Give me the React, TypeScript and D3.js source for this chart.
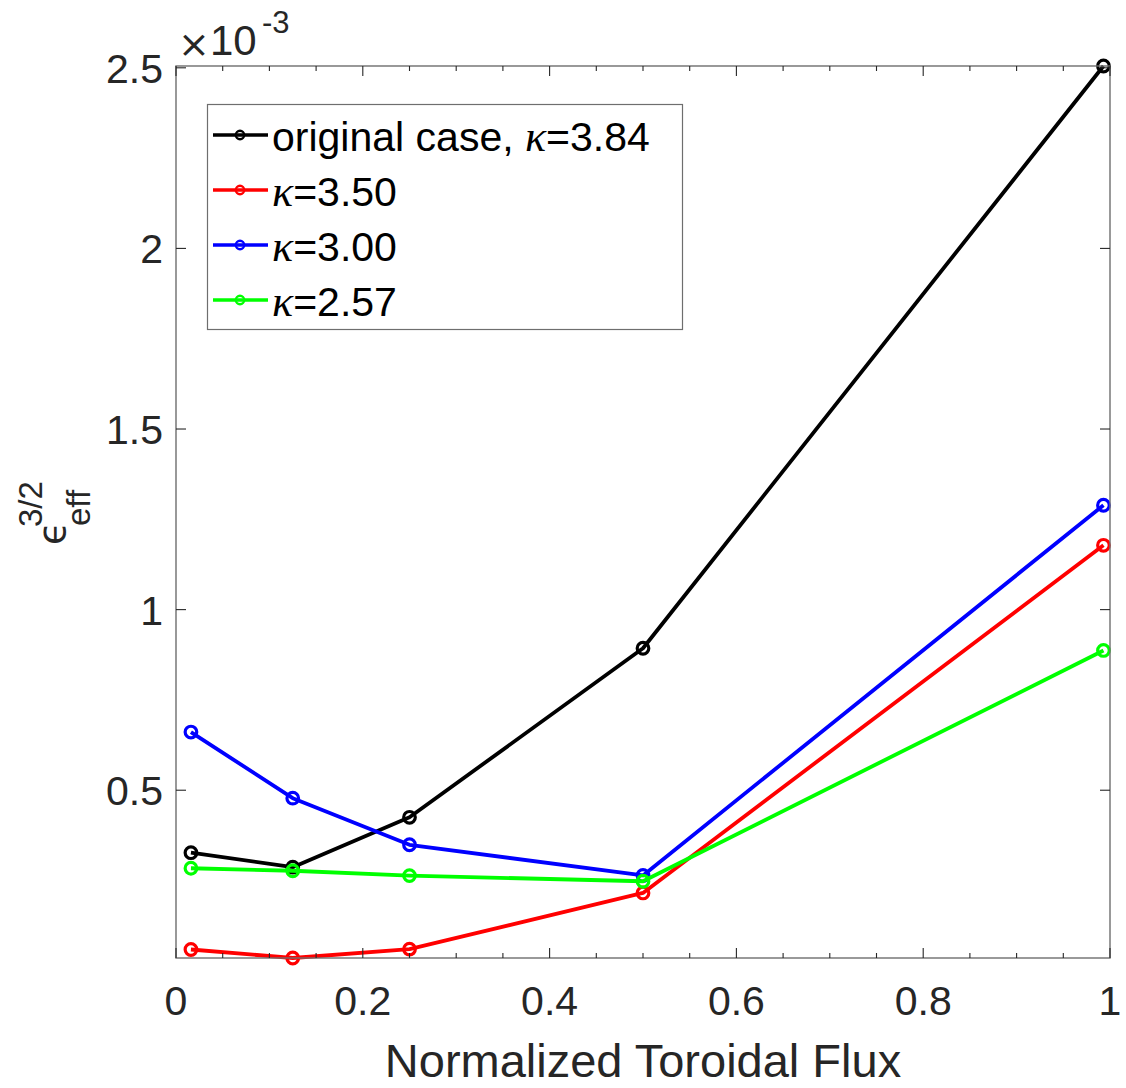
import React from "react";
import * as d3 from "d3";

const xValues = [0.016, 0.125, 0.25, 0.5, 0.993];
const blackVals = [0.327, 0.287, 0.425, 0.893, 2.505];
const redVals = [0.059, 0.0355, 0.06, 0.2156, 1.178];
const blueVals = [0.661, 0.478, 0.349, 0.264, 1.289];
const greenVals = [0.284, 0.277, 0.2636, 0.248, 0.887];

const seriesNames = ["original case, ", "", "", ""];
const seriesKappa = ["3.84", "3.50", "3.00", "2.57"];
const seriesColors = ["#000000", "#ff0000", "#0000ff", "#00ff00"];
const seriesValues = [blackVals, redVals, blueVals, greenVals];

const xTicks = [0, 0.2, 0.4, 0.6, 0.8, 1];
const xTickLabels = ["0", "0.2", "0.4", "0.6", "0.8", "1"];
const yTicks = [0.5, 1, 1.5, 2, 2.5];
const yTickLabels = ["0.5", "1", "1.5", "2", "2.5"];

const W = 1126;
const H = 1088;
const L = 176, R = 1110, T = 66, B = 958;
const SANS = "'Liberation Sans', Arial, Helvetica, sans-serif";
const SERIF = "'Liberation Serif', 'DejaVu Serif', serif";
const AX = "#262626";

export default function App() {
  const x = d3.scaleLinear().domain([0, 1]).range([L, R]);
  const allVals = seriesValues.flat();
  const y = d3
    .scaleLinear()
    .domain([d3.min(allVals) as number, d3.max(allVals) as number])
    .range([B, T]);
  const line = d3
    .line<number>()
    .x((_, i) => x(xValues[i]))
    .y((d) => y(d));

  const minorX = d3.range(0, 21).map((i) => i * 0.05);

  return (
    <svg
      width={W}
      height={H}
      style={{ position: "absolute", left: 0, top: 0, background: "#fff" }}
    >
      <rect x={0} y={0} width={W} height={H} fill="#fff" />
      {/* series */}
      {seriesValues.map((vals, si) => (
        <g key={si}>
          <path
            d={line(vals) || ""}
            fill="none"
            stroke={seriesColors[si]}
            strokeWidth={3.8}
            strokeLinejoin="round"
          />
          {vals.map((v, i) => (
            <circle
              key={i}
              cx={x(xValues[i])}
              cy={y(v)}
              r={5.8}
              fill="none"
              stroke={seriesColors[si]}
              strokeWidth={3.2}
            />
          ))}
        </g>
      ))}
      {/* axes box */}
      <rect x={L} y={T} width={R - L} height={B - T} fill="none" stroke="#6e6e6e" strokeWidth={1.4} />
      {/* x ticks */}
      {minorX.map((t, i) => {
        const major = i % 4 === 0;
        const len = major ? 10 : 5;
        return (
          <g key={"xt" + i}>
            <line x1={x(t)} x2={x(t)} y1={B} y2={B - len} stroke={AX} strokeWidth={1.1} />
            <line x1={x(t)} x2={x(t)} y1={T} y2={T + len} stroke={AX} strokeWidth={1.1} />
          </g>
        );
      })}
      {xTicks.map((t, i) => (
        <text
          key={"xl" + i}
          x={x(t)}
          y={1015}
          textAnchor="middle"
          fontFamily={SANS}
          fontSize={41}
          fill={AX}
        >
          {xTickLabels[i]}
        </text>
      ))}
      {/* y ticks */}
      {yTicks.map((t, i) => (
        <g key={"yt" + i}>
          <line x1={L} x2={L + 10} y1={y(t)} y2={y(t)} stroke={AX} strokeWidth={1.1} />
          <line x1={R} x2={R - 10} y1={y(t)} y2={y(t)} stroke={AX} strokeWidth={1.1} />
          <text
            x={163}
            y={y(t) + 15}
            textAnchor="end"
            fontFamily={SANS}
            fontSize={41}
            fill={AX}
          >
            {yTickLabels[i]}
          </text>
        </g>
      ))}
      {/* exponent */}
      <text x={178} y={57} fontFamily="'DejaVu Sans', sans-serif" fontSize={38} fill={AX}>
        ×
      </text>
      <text x={210} y={55} fontFamily={SANS} fontSize={42} fill={AX}>
        10
      </text>
      <text x={262} y={33} fontFamily={SANS} fontSize={31} fill={AX}>
        -3
      </text>
      {/* x label */}
      <text
        x={(L + R) / 2}
        y={1077}
        textAnchor="middle"
        fontFamily={SANS}
        fontSize={47}
        fill={AX}
      >
        Normalized Toroidal Flux
      </text>
      {/* y label */}
      <g transform="translate(65,545) rotate(-90)" fill={AX} fontFamily={SANS}>
        <text x={0} y={0} fontSize={38} fontFamily="'DejaVu Sans', sans-serif">
          ϵ
        </text>
        <text x={19} y={25} fontSize={33}>
          eff
        </text>
        <text x={18} y={-23} fontSize={33}>
          3/2
        </text>
      </g>
      {/* legend */}
      <rect x={207.5} y={104.5} width={475} height={225} fill="#fff" stroke="#6e6e6e" strokeWidth={1.2} />
      {seriesColors.map((c, i) => {
        const cy = 135 + i * 55;
        return (
          <g key={"lg" + i}>
            <line x1={213} x2={268} y1={cy} y2={cy} stroke={c} strokeWidth={3.4} />
            <circle cx={240} cy={cy} r={4.2} fill="none" stroke={c} strokeWidth={2.4} />
            <text x={272} y={cy + 16} fontFamily={SANS} fontSize={41} fill="#000">
              {seriesNames[i]}
              <tspan fontFamily={SERIF} fontStyle="italic" fontSize={44}>κ</tspan>
              =
              {seriesKappa[i]}
            </text>
          </g>
        );
      })}
    </svg>
  );
}
